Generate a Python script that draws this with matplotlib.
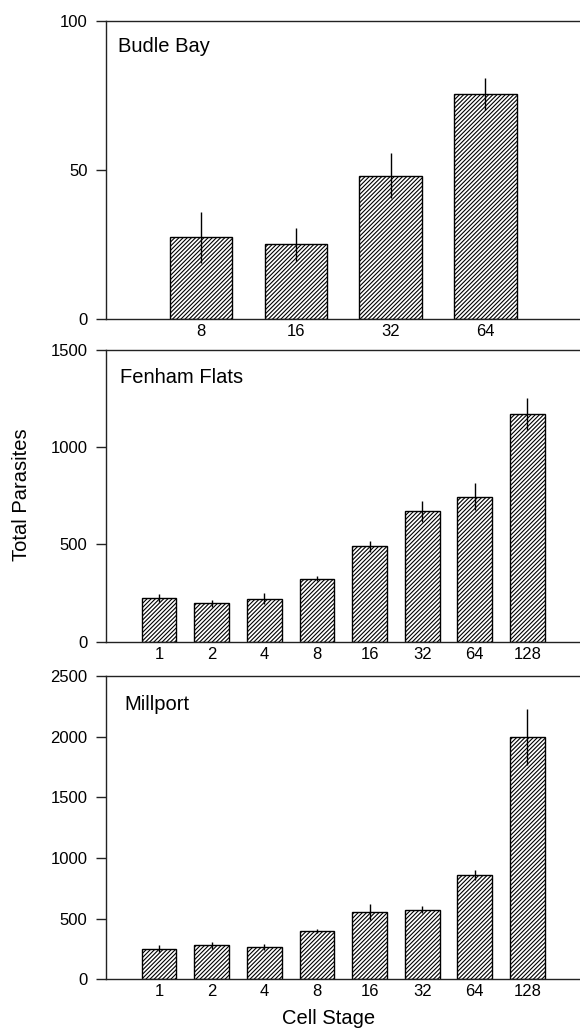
import numpy as np
import matplotlib.pyplot as plt

plt.rcParams['font.family'] = ['Liberation Sans', 'DejaVu Sans']
plt.rcParams['hatch.linewidth'] = 0.8

# Budle Bay
budle_stages = ['8', '16', '32', '64']
budle_mean = [27.4, 25.1, 48.2, 75.6]
budle_err = [8.5, 5.6, 7.6, 5.4]

# Fenham Flats
fenham_stages = ['1', '2', '4', '8', '16', '32', '64', '128']
fenham_mean = [223, 197, 221, 324, 490, 670, 746, 1171]
fenham_err = [20, 17, 29, 14, 29, 53, 68, 84]

# Millport
millport_stages = ['1', '2', '4', '8', '16', '32', '64', '128']
millport_mean = [255, 282, 269, 400, 559, 576, 864, 1998]
millport_err = [25, 30, 24, 19, 66, 32, 41, 231]

panels = [
    ("Budle Bay", budle_stages, budle_mean, budle_err, 100, [0, 50, 100], 5),
    ("Fenham Flats", fenham_stages, fenham_mean, fenham_err, 1500, [0, 500, 1000, 1500], 9),
    ("Millport", millport_stages, millport_mean, millport_err, 2500, [0, 500, 1000, 1500, 2000, 2500], 9),
]

# axes boxes [left, bottom, width, height] in figure fractions
boxes = [
    [0.1836, 0.6897, 0.8164, 0.2894],
    [0.1836, 0.3758, 0.8164, 0.2838],
    [0.1836, 0.0472, 0.8164, 0.2952],
]
label_pos = [(0.025, 0.949), (0.0275, 0.937), (0.038, 0.9375)]

fig = plt.figure(figsize=(5.8, 10.28), dpi=100)
spine_col = '#222222'

for (name, stages, mean, err, ymax, yt, xmax), box, (lx, ly) in zip(panels, boxes, label_pos):
    ax = fig.add_axes(box)
    x = np.arange(1, len(stages) + 1)
    ax.bar(x, mean, width=0.66, color='white', edgecolor='black',
           linewidth=1.0, hatch='////////', zorder=2)
    ax.errorbar(x, mean, yerr=err, fmt='none', ecolor='black',
                elinewidth=1.0, capsize=0, zorder=3)
    ax.set_xlim(0, xmax)
    ax.set_ylim(0, ymax)
    ax.set_xticks(x)
    ax.set_xticklabels(stages)
    ax.set_yticks(yt)
    ax.tick_params(axis='x', length=0, pad=3.5, labelsize=12)
    ax.tick_params(axis='y', direction='out', length=7.2, width=1.0,
                   color=spine_col, pad=6.5, labelsize=12)
    for s in ['left', 'top', 'bottom']:
        ax.spines[s].set_color(spine_col)
        ax.spines[s].set_linewidth(1.0)
    ax.spines['right'].set_visible(False)
    ax.text(lx, ly, name, transform=ax.transAxes, fontsize=14.5,
            ha='left', va='top')

fig.text(0.037, 0.5185, 'Total Parasites', rotation=90, fontsize=14.5,
         ha='center', va='center')
fig.text(0.566, 0.0097, 'Cell Stage', fontsize=14.5, ha='center', va='center')

fig.savefig('out.png', dpi=100)
